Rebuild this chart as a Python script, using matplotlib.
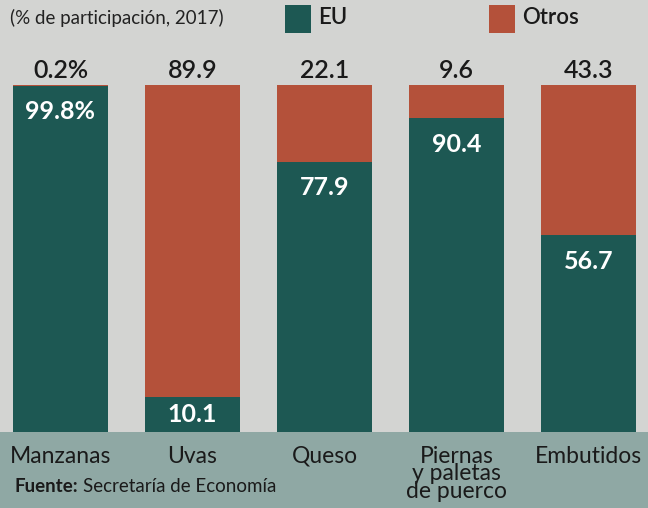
import matplotlib.pyplot as plt
from matplotlib.patches import Rectangle

# datos
categorias = ["Manzanas", "Uvas", "Queso", "Piernas\ny paletas\nde puerco", "Embutidos"]
eu = [99.8, 10.1, 77.9, 90.4, 56.7]
otros = [0.2, 89.9, 22.1, 9.6, 43.3]
etiqueta_eu = ["99.8%", "10.1", "77.9", "90.4", "56.7"]
etiqueta_otros = ["0.2%", "89.9", "22.1", "9.6", "43.3"]

verde = "#1d5853"
rojo = "#b4513a"
fondo = "#d3d4d2"
banda = "#8fa8a4"
fuente = "Lato"

fig = plt.figure(figsize=(6.48, 5.08), dpi=100)
fig.patch.set_facecolor(fondo)

# banda inferior
fig.add_artist(Rectangle((0, 0), 1, 76 / 508, transform=fig.transFigure,
                         facecolor=banda, edgecolor="none", zorder=0))

ax = fig.add_axes([0, 76 / 508, 1, 347 / 508])
ax.set_facecolor("none")
x = list(range(len(categorias)))
ax.bar(x, eu, width=0.72, color=verde, zorder=2)
ax.bar(x, otros, width=0.72, bottom=eu, color=rojo, zorder=2)
ax.set_xlim(-60.5 / 132, (648 - 60.5) / 132)
ax.set_ylim(0, 100)
ax.axis("off")

for i in x:
    ax.text(i, 104.3, etiqueta_otros[i], ha="center", va="center", fontsize=18,
            fontfamily=fuente, fontweight="semibold", color="#1a1a1a")
    y_lbl = eu[i] - 7.5 if eu[i] > 20 else eu[i] / 2
    ax.text(i, y_lbl, etiqueta_eu[i], ha="center", va="center",
            fontsize=18, fontfamily=fuente, fontweight="bold", color="white", zorder=3)
    ax.text(i, -4.0, categorias[i], ha="center", va="top", fontsize=16.5,
            fontfamily=fuente, color="#1a1a1a", linespacing=0.8)

# titulo y leyenda
fig.text(10 / 648, 1 - 18 / 508, "(% de participación, 2017)", ha="left", va="center",
         fontsize=13.5, fontfamily=fuente, color="#222222")
fig.add_artist(Rectangle((285 / 648, 1 - 33 / 508), 26 / 648, 28 / 508,
                         transform=fig.transFigure, facecolor=verde, edgecolor="none"))
fig.text(318 / 648, 1 - 18 / 508, "EU", ha="left", va="center", fontsize=16,
         fontfamily=fuente, fontweight="semibold", color="#1a1a1a")
fig.add_artist(Rectangle((489 / 648, 1 - 33 / 508), 26 / 648, 28 / 508,
                         transform=fig.transFigure, facecolor=rojo, edgecolor="none"))
fig.text(522 / 648, 1 - 18 / 508, "Otros", ha="left", va="center", fontsize=16,
         fontfamily=fuente, fontweight="semibold", color="#1a1a1a")

t = fig.text(15 / 648, 1 - 486 / 508, "Fuente:", ha="left", va="center", fontsize=13.5,
             fontfamily=fuente, fontweight="bold", color="#1a1a1a")
fig.canvas.draw()
bb = t.get_window_extent()
fig.text((bb.x1 + 4) / 648, 1 - 486 / 508, "Secretaría de Economía", ha="left", va="center",
         fontsize=13.5, fontfamily=fuente, color="#1a1a1a")

fig.savefig("out.png", dpi=100, facecolor=fig.get_facecolor())
